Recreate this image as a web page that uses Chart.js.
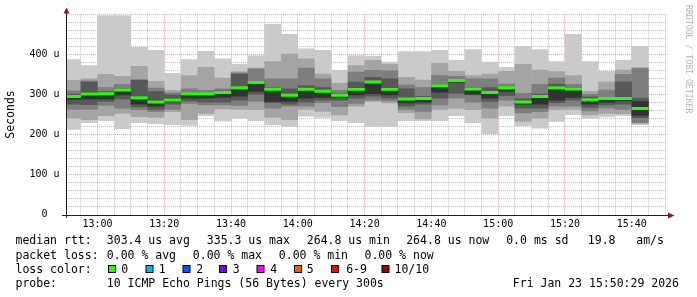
<!DOCTYPE html>
<html>
<head>
<meta charset="utf-8">
<script src="https://cdn.jsdelivr.net/npm/chart.js@4/dist/chart.umd.min.js"></script>
<style>
html,body{margin:0;padding:0;background:#ffffff;}
canvas{display:block;}
</style>
</head>
<body>
<canvas id="c" width="697" height="297"></canvas>
<script>
// ---------------- data ----------------
const buckets = ['12:50','12:55','13:00','13:05','13:10','13:15','13:20','13:25','13:30','13:35',
  '13:40','13:45','13:50','13:55','14:00','14:05','14:10','14:15','14:20','14:25',
  '14:30','14:35','14:40','14:45','14:50','14:55','15:00','15:05','15:10','15:15',
  '15:20','15:25','15:30','15:35','15:40'];
// sorted ping values per 5 minute step (microseconds), ping1 = fastest ... ping10 = slowest
const ping1  = [212,229,234,214,229,226,224,222,246,233,240,234,223,219,245,242,234,229,219,219,234,234,234,246,228,201,246,221,215,232,249,240,243,246,223];
const ping2  = [240,236,246,252,244,242,256,236,252,263,262,261,242,236,262,257,248,270,282,278,254,238,262,265,261,240,270,232,240,261,262,248,252,251,227];
const ping3  = [262,262,272,265,261,256,262,277,273,273,272,282,265,270,270,279,269,277,285,283,262,257,273,290,280,265,285,253,256,270,270,258,265,262,229];
const ping4  = [275,274,282,288,268,262,275,283,280,280,285,300,279,275,280,285,285,290,295,290,270,275,290,302,298,282,296,265,265,279,285,267,273,275,241];
const ping5  = [287,288,288,298,275,270,282,290,290,292,295,307,282,282,290,292,291,298,301,298,278,280,305,330,300,290,307,275,275,285,292,275,280,283,247];
const ping6  = [298,305,304,313,296,285,290,304,304,308,320,333,316,300,317,311,301,318,334,318,292,293,325,338,317,308,319,284,298,321,317,290,293,293,283];
const ping7  = [302,332,308,316,336,308,300,306,305,310,352,334,318,315,323,318,303,332,344,340,315,296,326,339,318,318,320,290,302,327,318,295,294,332,292];
const ping8  = [310,335,318,326,338,317,305,315,311,315,355,365,340,340,367,340,311,357,361,360,325,318,348,346,340,340,327,304,326,342,326,301,312,351,366];
const ping9  = [336,340,351,346,371,334,311,348,369,342,358,367,383,402,390,352,329,373,386,376,344,337,379,359,348,352,359,376,362,358,348,309,332,362,368];
const ping10 = [388,373,498,498,419,411,354,388,409,390,376,398,476,451,415,411,361,398,396,382,408,408,411,386,413,382,369,421,413,383,451,383,359,386,421];
const median = [295,301,302,311,292,281,286,302,302,305,317,330,313,298,313,308,298,313,331,313,289,290,322,335.3,314,305,317,281,295,317,314,287,290,290,264.8];

const rangeStart = '12:50:43';
const rangeEnd   = '15:50:43';
const yMax = 500;
const yLabelValues = [0,100,200,300,400];

const rttStats  = [303.4, 335.3, 264.8, 264.8];   // avg max min now (us)
const rttLabels = ['avg','max','min','now'];
const sdValue = 0.0, amsValue = 19.8;
const lossStats = [0.00, 0.00, 0.00, 0.00];
const lossLabels = ['0','1','2','3','4','5','6-9','10/10'];
const lossColors = ['#26ff00','#00b8ff','#0059ff','#7e00ff','#ff00ff','#ff5500','#ff0000','#a10000'];
const probeText = '10 ICMP Echo Pings (56 Bytes) every 300s';
const dateText = 'Fri Jan 23 15:50:29 2026';

// ---------------- helpers / styles ----------------
const toMin = s => { const p = s.split(':').map(Number); return p[0]*60 + p[1] + (p[2]||0)/60; };
const hhmm = v => { const h = Math.floor(v/60), m = Math.round(v - h*60); return String(h).padStart(2,'0') + ':' + String(m).padStart(2,'0'); };
const STEP = 5;
const xs = buckets.map(b => toMin(b) + STEP/2);
const smokeColors = ['#cacaca','#a4a4a4','#7e7e7e','#585858','#323232'];
const layers = [[ping1,ping10],[ping2,ping9],[ping3,ping8],[ping4,ping7],[ping5,ping6]];
const MED_HALF = 3.75;
const MONO = '"DejaVu Sans Mono", "Liberation Mono", monospace';
const MINOR = 'rgba(143,143,143,0.55)';
const MAJOR = 'rgba(222,79,79,0.55)';

const datasets = layers.map(([lo, hi], i) => ({
  label: 'smoke' + (i+1),
  data: xs.map((x, j) => ({x: x, y: [lo[j], hi[j]]})),
  backgroundColor: smokeColors[i],
  borderWidth: 0,
  grouped: false,
  barPercentage: 1.02,
  categoryPercentage: 1,
  order: 10 - i,
  clip: 0
}));
datasets.push({
  label: 'median rtt',
  data: xs.map((x, j) => ({x: x, y: [median[j] - MED_HALF, median[j] + MED_HALF]})),
  backgroundColor: lossColors[0],
  borderWidth: 0,
  grouped: false,
  barPercentage: 1.02,
  categoryPercentage: 1,
  order: 0,
  clip: 0
});

const decor = {
  id: 'decor',
  afterDraw(chart) {
    const ctx = chart.ctx, a = chart.chartArea;
    ctx.save();
    // axes
    ctx.strokeStyle = '#1f1f1f';
    ctx.lineWidth = 1;
    ctx.setLineDash([]);
    ctx.beginPath();
    ctx.moveTo(62, 215.5); ctx.lineTo(668, 215.5);
    ctx.moveTo(a.left, 218); ctx.lineTo(a.left, 13);
    ctx.stroke();
    // arrows
    ctx.fillStyle = '#801f1f';
    ctx.beginPath();
    ctx.moveTo(668, 212.5); ctx.lineTo(674.5, 215.5); ctx.lineTo(668, 218.5); ctx.closePath(); ctx.fill();
    ctx.beginPath();
    ctx.moveTo(a.left - 3, 13.5); ctx.lineTo(a.left, 7.5); ctx.lineTo(a.left + 3, 13.5); ctx.closePath(); ctx.fill();

    // legend
    ctx.fillStyle = '#000';
    ctx.font = '11.5px ' + MONO;
    ctx.textBaseline = 'alphabetic';
    ctx.textAlign = 'left';
    const L1 = 244, L2 = 259, L3 = 273.3, L4 = 287.3;
    ctx.fillText('median rtt:', 15.5, L1);
    const r1x = [106.8, 206.8, 306.8, 406.2];
    rttStats.forEach((v, i) => ctx.fillText(v.toFixed(1) + ' us ' + rttLabels[i], r1x[i], L1));
    ctx.fillText(sdValue.toFixed(1) + ' ms sd', 506.2, L1);
    ctx.fillText(amsValue.toFixed(1) + '   am/s', 587.8, L1);

    ctx.fillText('packet loss:', 15.5, L2);
    const r2x = [106.8, 192.8, 278.8, 364.5];
    lossStats.forEach((v, i) => ctx.fillText(v.toFixed(2) + ' % ' + rttLabels[i], r2x[i], L2));

    ctx.fillText('loss color:', 15.5, L3);
    const sqx = [108, 145.5, 182.5, 219, 256.5, 294, 331, 381.5];
    const lbx = [121.2, 158.8, 196.2, 232.8, 270.2, 306.8, 346.2, 394.5];
    lossLabels.forEach((t, i) => {
      ctx.fillStyle = '#000';
      ctx.fillRect(sqx[i], 265, 8, 8);
      ctx.fillStyle = lossColors[i];
      ctx.fillRect(sqx[i] + 1, 266, 6, 6);
      ctx.fillStyle = '#000';
      ctx.fillText(t, lbx[i], L3);
    });

    ctx.fillText('probe:', 15.5, L4);
    ctx.fillText(probeText, 106.8, L4);
    ctx.fillText(dateText, 512.8, L4);

    // watermark
    ctx.save();
    ctx.translate(688.5, 5);
    ctx.rotate(Math.PI / 2);
    ctx.font = '8.2px ' + MONO;
    ctx.fillStyle = '#b4b4b4';
    ctx.textBaseline = 'middle';
    ctx.fillText('RRDTOOL / TOBI OETIKER', 0, 0);
    ctx.restore();
    ctx.restore();
  }
};

new Chart(document.getElementById('c'), {
  type: 'bar',
  data: { datasets: datasets },
  plugins: [decor],
  options: {
    responsive: false,
    animation: false,
    events: [],
    layout: { padding: { top: 14.5, right: 29.5, left: 0, bottom: 0 } },
    plugins: { legend: { display: false }, tooltip: { enabled: false } },
    scales: {
      x: {
        type: 'linear',
        min: toMin(rangeStart),
        max: toMin(rangeEnd),
        offset: false,
        z: 1,
        grid: {
          offset: false,
          drawTicks: false,
          lineWidth: 1,
          borderDash: [1, 1],
          color: c => (c.tick && Math.round(c.tick.value) % 20 === 0) ? MAJOR : MINOR
        },
        border: { display: false, dash: [1, 1] },
        ticks: {
          autoSkip: false, maxRotation: 0, minRotation: 0, padding: 4,
          color: '#000',
          font: { family: MONO, size: 10 },
          callback: v => (Math.round(v) % 20 === 0) ? hhmm(v) : ''
        },
        afterBuildTicks: s => {
          const t = [];
          for (let v = Math.ceil(s.min / STEP) * STEP; v <= s.max; v += STEP) t.push({ value: v });
          s.ticks = t;
        },
        afterFit: s => { s.height = 82.5; }
      },
      y: {
        type: 'linear',
        min: 0,
        max: yMax,
        z: 1,
        grid: {
          drawTicks: false,
          lineWidth: 1,
          borderDash: [1, 1],
          color: c => {
            const v = c.tick ? c.tick.value : -1;
            if (v === 0) return 'rgba(0,0,0,0)';
            return (v % 100 === 0 && v < yMax) ? MAJOR : MINOR;
          }
        },
        border: { display: false, dash: [1, 1] },
        ticks: {
          autoSkip: false,
          padding: 7,
          color: '#000',
          font: { family: MONO, size: 10 },
          callback: v => yLabelValues.includes(v) ? (v === 0 ? '0  ' : v + ' u') : ''
        },
        afterBuildTicks: s => {
          const t = [];
          for (let v = 0; v <= yMax; v += 20) t.push({ value: v });
          s.ticks = t;
        },
        title: {
          display: true, text: 'Seconds', color: '#000',
          font: { family: MONO, size: 11.5 },
          padding: { top: 4.6, bottom: 0 }
        },
        afterFit: s => { s.width = 66.5; }
      }
    }
  }
});
</script>
</body>
</html>
